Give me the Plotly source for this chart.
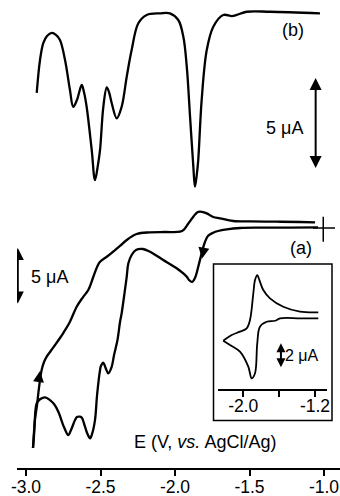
import plotly.graph_objects as go

# ---- (b) derivative-type voltammogram: potential (V) and current (uA) ----
b_E = [-2.928, -2.906, -2.884, -2.859, -2.826, -2.799, -2.772, -2.738, -2.705, -2.683,
       -2.658, -2.626, -2.611, -2.593, -2.559, -2.537, -2.517, -2.503, -2.481, -2.458,
       -2.443, -2.425, -2.391, -2.358, -2.324, -2.291, -2.246, -2.190, -2.101, -2.034,
       -1.978, -1.944, -1.921, -1.899, -1.877, -1.866, -1.854, -1.844, -1.821, -1.787,
       -1.743, -1.676, -1.619, -1.586, -1.519, -1.362, -1.027]
b_I = [-4.44, -2.61, -1.68, -1.28, -1.11, -1.22, -1.50, -2.61, -4.28, -5.21,
       -4.83, -4.00, -4.39, -5.21, -7.61, -9.28, -8.44, -7.61, -5.21, -4.13,
       -4.39, -5.00, -5.85, -5.21, -3.54, -2.06, -0.57, -0.11, -0.02, -0.02,
       -0.39, -1.32, -2.98, -5.76, -8.54, -9.65, -9.00, -8.17, -4.83, -2.06,
       -0.76, -0.11, -0.17, -0.11, 0.07, 0.07, -0.02]

# ---- (a) cyclic voltammogram, cathodic sweep ----
a_fwd_E = [-1.040, -1.228, -1.430, -1.564, -1.653, -1.711, -1.743, -1.779, -1.799, -1.819,
           -1.844, -1.866, -1.886, -1.906, -1.921, -1.989, -2.079, -2.168, -2.215, -2.262,
           -2.291, -2.313, -2.324, -2.336, -2.358, -2.369, -2.386, -2.409, -2.425, -2.448,
           -2.463, -2.481, -2.497, -2.503, -2.523, -2.537, -2.557, -2.570, -2.587, -2.604,
           -2.624, -2.638, -2.658, -2.671, -2.698, -2.716, -2.745, -2.783, -2.812, -2.839,
           -2.872, -2.906, -2.928, -2.943, -2.953]
a_fwd_I = [0.05, 0.03, 0.03, 0.00, -0.12, -0.27, -0.42, -0.72, -1.26, -2.16,
           -3.49, -4.50, -4.86, -4.68, -4.39, -3.63, -2.88, -2.14, -1.89, -1.98,
           -2.43, -3.18, -4.39, -5.59, -7.68, -8.47, -10.09, -11.44, -12.50, -13.09,
           -12.70, -12.14, -12.43, -12.79, -15.05, -17.30, -18.56, -18.95, -18.56, -17.90,
           -17.12, -17.00, -17.03, -17.30, -18.20, -18.65, -17.93, -16.55, -15.86, -15.50,
           -15.25, -15.43, -15.79, -17.75, -19.82]

# ---- (a) cyclic voltammogram, anodic (return) sweep ----
a_rev_E = [-2.953, -2.946, -2.940, -2.926, -2.917, -2.906, -2.895, -2.879, -2.861, -2.839,
           -2.805, -2.772, -2.750, -2.705, -2.660, -2.617, -2.582, -2.548, -2.523, -2.503,
           -2.458, -2.416, -2.369, -2.324, -2.257, -2.168, -2.067, -1.966, -1.940, -1.913,
           -1.877, -1.852, -1.832, -1.812, -1.787, -1.743, -1.698, -1.609, -1.497, -1.317,
           -1.161, -1.060]
a_rev_I = [-19.82, -18.65, -17.30, -15.95, -14.86, -13.69, -12.79, -12.07, -11.59, -11.17,
           -10.54, -9.91, -9.46, -8.44, -7.09, -6.22, -5.59, -4.39, -3.51, -3.04,
           -2.59, -2.14, -1.62, -1.08, -0.54, -0.39, -0.36, -0.33, -0.14, 0.36,
           1.02, 1.40, 1.47, 1.44, 1.32, 0.99, 0.87, 0.63, 0.59, 0.57,
           0.54, 0.51]

# ---- inset: single reversible couple ----
in_up_E = [-1.163, -1.367, -1.554, -1.702, -1.777, -1.821, -1.844, -1.869, -1.888, -1.925,
           -1.962, -2.037, -2.129, -2.223]
in_up_I = [-0.03, 0.03, 0.44, 1.14, 1.83, 2.67, 3.08, 2.67, 1.56, -0.67,
           -1.36, -1.64, -1.92, -2.39]
in_lo_E = [-2.223, -2.148, -2.037, -1.944, -1.906, -1.869, -1.844, -1.814, -1.739, -1.646,
           -1.590, -1.367, -1.163]
in_lo_I = [-2.39, -2.75, -3.31, -4.56, -5.53, -5.11, -2.61, -1.23, -0.81, -0.73,
           -0.53, -0.53, -0.53]

x_ticks = [-3.0, -2.5, -2.0, -1.5, -1.0]
x_ticklabels = ["-3.0", "-2.5", "-2.0", "-1.5", "-1.0"]
inset_ticks = [-2.0, -1.6, -1.2]
inset_ticklabels = ["-2.0", "", "-1.2"]

# scale bars: (E position, top current, length in uA)
bar_b = (-1.056, -3.61, 5)
bar_a = (-3.055, -1.80, 5)
bar_in = (-1.58, -2.6, 2)

W, H = 340, 496
FONT = "Liberation Sans, Arial, sans-serif"
LW = 2.3
K = "black"
FS_TEXT = 18
FS_TICK = 17.5

fig = go.Figure()

line = dict(color=K, width=LW)
fig.add_trace(go.Scatter(x=b_E, y=b_I, mode="lines", line=line, line_shape="spline",
                         yaxis="y3"))
fig.add_trace(go.Scatter(x=a_fwd_E, y=a_fwd_I, mode="lines", line=line, line_shape="spline"))
fig.add_trace(go.Scatter(x=a_rev_E, y=a_rev_I, mode="lines", line=line, line_shape="spline"))

# sweep-direction arrowheads on the (a) curve
fig.add_trace(go.Scatter(x=[a_rev_E[5], a_fwd_E[9]], y=[a_rev_I[5] + 0.8, a_fwd_I[9] - 0.6],
                         mode="markers",
                         marker=dict(symbol=["arrow-up", "arrow-down"], size=11, color=K,
                                     angle=[8, 10], line=dict(width=0))))

# zero-current cross at the start of the (a) sweep
fig.add_trace(go.Scatter(x=[-1.074, -0.926, None, -1.005, -1.005], y=[0, 0, None, 1.02, -1.23],
                         mode="lines", line=dict(color=K, width=1.5)))

fig.add_trace(go.Scatter(x=in_up_E, y=in_up_I, mode="lines", line=dict(color=K, width=1.8),
                         line_shape="spline", xaxis="x2", yaxis="y2"))
fig.add_trace(go.Scatter(x=in_lo_E, y=in_lo_I, mode="lines", line=dict(color=K, width=1.8),
                         line_shape="spline", xaxis="x2", yaxis="y2"))


def scale_bar(bar, xa, ya, size):
    e, top, length = bar
    fig.add_trace(go.Scatter(x=[e, e], y=[top - 0.6 * length / 5, top - length + 0.6 * length / 5],
                             mode="lines", line=dict(color=K, width=2), xaxis=xa, yaxis=ya))
    fig.add_trace(go.Scatter(x=[e, e], y=[top, top - length], mode="markers",
                             marker=dict(symbol=["arrow-up", "arrow-down"], size=size, color=K,
                                         line=dict(width=0)),
                             xaxis=xa, yaxis=ya))


scale_bar(bar_b, "x", "y3", 12)
scale_bar(bar_a, "x", "y", 12)
scale_bar(bar_in, "x2", "y2", 9)

ann = []
ann.append(dict(x=-1.262, y=-6.39, xref="x", yref="y3", text="5 μA", showarrow=False,
                font=dict(size=FS_TEXT)))
ann.append(dict(x=-1.208, y=-0.94, xref="x", yref="y3", text="(b)", showarrow=False,
                font=dict(size=FS_TEXT)))
ann.append(dict(x=-1.154, y=-1.80, xref="x", yref="y", text="(a)", showarrow=False,
                font=dict(size=FS_TEXT)))
ann.append(dict(x=-2.839, y=-4.39, xref="x", yref="y", text="5 μA", showarrow=False,
                font=dict(size=FS_TEXT)))
ann.append(dict(x=-1.345, y=-3.6, xref="x2", yref="y2", text="2 μA", showarrow=False,
                font=dict(size=16)))
ann.append(dict(x=205 / W, y=(H - 454) / H, xref="paper", yref="paper",
                text="E (V, <i>vs.</i> AgCl/Ag)", showarrow=False, font=dict(size=FS_TEXT)))

fig.update_layout(
    width=W, height=H, margin=dict(l=0, r=0, t=0, b=0, pad=0, autoexpand=False),
    paper_bgcolor="white", plot_bgcolor="rgba(0,0,0,0)",
    showlegend=False,
    font=dict(family=FONT, color=K, size=16),
    annotations=ann,
    xaxis=dict(domain=[17 / W, 1], range=[-3.0604, -0.8926], showline=True, linecolor=K,
               linewidth=1.5, ticks="outside", ticklen=6, tickwidth=1.5, tickcolor=K,
               tickvals=x_ticks, ticktext=x_ticklabels, showgrid=False, zeroline=False,
               tickfont=dict(size=FS_TICK), anchor="y", automargin=False,
               ticklabelstandoff=-4),
    yaxis=dict(domain=[(H - 468) / H, 1], range=[-21.62, 20.54], visible=False,
               automargin=False),
    yaxis3=dict(domain=[(H - 468) / H, 1], range=[-25.28, 0.722], visible=False,
                overlaying="y", automargin=False),
    xaxis2=dict(domain=[218 / W, 327 / W], range=[-2.282, -1.066], showline=True, linecolor=K,
                linewidth=1.5, ticks="outside", ticklen=6, tickwidth=1.5, tickcolor=K,
                tickvals=inset_ticks, ticktext=inset_ticklabels, showgrid=False,
                zeroline=False, tickfont=dict(size=FS_TICK), anchor="y2", automargin=False,
                ticklabelstandoff=-6),
    yaxis2=dict(domain=[(H - 389) / H, (H - 265) / H], range=[-6.417, 3.917], visible=False,
                automargin=False),
    shapes=[dict(type="rect", xref="paper", yref="paper", x0=213.5 / W, x1=332 / W,
                 y0=(H - 420.5) / H, y1=(H - 264) / H, line=dict(color=K, width=1.5))],
)

fig.write_html("out.html")
